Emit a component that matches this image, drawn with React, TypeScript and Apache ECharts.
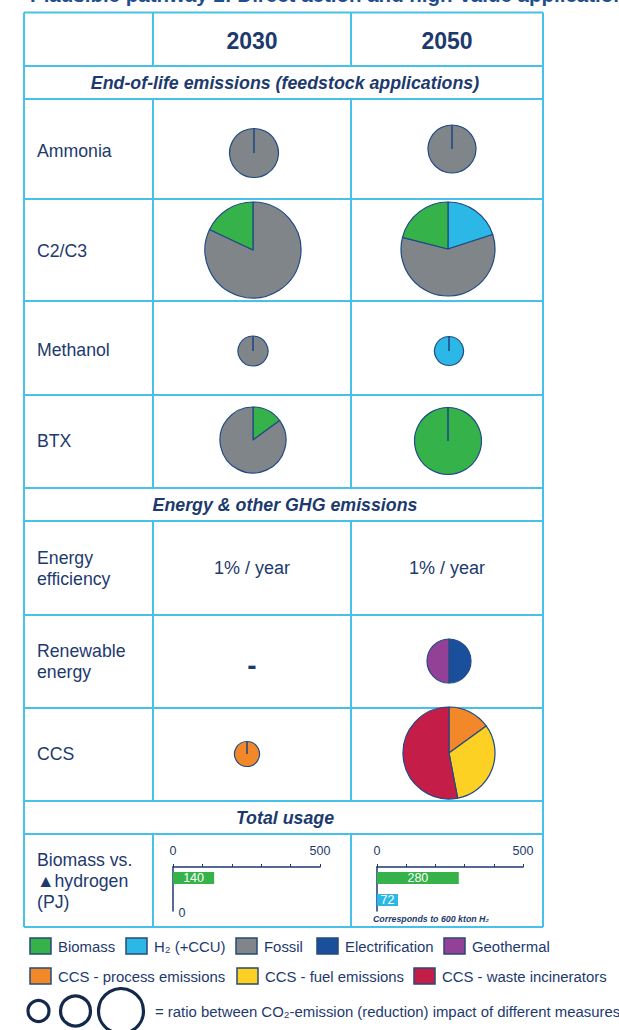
import React, { useEffect, useRef } from "react";
import * as echarts from "echarts";

// ---------- data ----------
const titleText = "Plausible pathway 2: Direct action and high-value applications";
const years = ["2030", "2050"];
const sectionTitles = [
  "End-of-life emissions (feedstock applications)",
  "Energy & other GHG emissions",
  "Total usage",
];
const rowLabels = [
  "Ammonia",
  "C2/C3",
  "Methanol",
  "BTX",
  "Energy\nefficiency",
  "Renewable\nenergy",
  "CCS",
  "Biomass vs.\n▲hydrogen\n(PJ)",
];
const energyEfficiency = ["1% / year", "1% / year"];
const renewable2030Text = "-";

const categories = [
  "Biomass",
  "H₂ (+CCU)",
  "Fossil",
  "Electrification",
  "Geothermal",
  "CCS - process emissions",
  "CCS - fuel emissions",
  "CCS - waste incinerators",
];
const categoryColors = [
  "#35b24a",
  "#2cb8e6",
  "#7f8588",
  "#1a4f9c",
  "#924196",
  "#f2882a",
  "#fdd024",
  "#c41e48",
];

// pie slices, listed clockwise from 12 o'clock: [category, share %]
const ammonia2030: [string, number][] = [["Fossil", 100]];
const ammonia2050: [string, number][] = [["Fossil", 100]];
const c2c3_2030: [string, number][] = [["Fossil", 82], ["Biomass", 18]];
const c2c3_2050: [string, number][] = [["H₂ (+CCU)", 20], ["Fossil", 59], ["Biomass", 21]];
const methanol2030: [string, number][] = [["Fossil", 100]];
const methanol2050: [string, number][] = [["H₂ (+CCU)", 100]];
const btx2030: [string, number][] = [["Biomass", 15], ["Fossil", 85]];
const btx2050: [string, number][] = [["Biomass", 100]];
const renewable2050: [string, number][] = [["Electrification", 50], ["Geothermal", 50]];
const ccs2030: [string, number][] = [["CCS - process emissions", 100]];
const ccs2050: [string, number][] = [
  ["CCS - process emissions", 15],
  ["CCS - fuel emissions", 32],
  ["CCS - waste incinerators", 53],
];
// relative impact (pie radius, px)
const pieSizes = [24.5, 24, 48, 47, 15, 14.5, 33, 33.5, 22, 12.5, 46];

const barCategories = ["Biomass", "Hydrogen"];
const usage2030 = [140, 0];
const usage2050 = [280, 72];
const usageTickLabels = [0, 500];
const usageNote = "Corresponds to 600 kton H₂";
const ratioNote = "= ratio between CO₂-emission (reduction) impact of different measures";

// ---------- layout ----------
const NAVY = "#1d3a6e";
const LINE = "#45c1ea";
const BORDER = "#214a84";
const FONT = "Liberation Sans, Arial, Helvetica, sans-serif";
const X = [24, 153, 351, 543];
const Y = [12.5, 66, 99, 199, 301, 395, 488, 521, 615, 708, 801, 834, 927];
const labelY = [151, 251, 350, 441, 568, 661, 754, 881];
const sectionY = [83, 505, 818];

const pieList = [
  { data: ammonia2030, c: [254, 153] },
  { data: ammonia2050, c: [452, 149] },
  { data: c2c3_2030, c: [253, 250] },
  { data: c2c3_2050, c: [448, 249] },
  { data: methanol2030, c: [253, 351] },
  { data: methanol2050, c: [449, 351] },
  { data: btx2030, c: [253, 440] },
  { data: btx2050, c: [448, 441] },
  { data: renewable2050, c: [449, 661] },
  { data: ccs2030, c: [247, 754] },
  { data: ccs2050, c: [449, 753] },
];

const legendRows = [
  { y: 946, items: [0, 1, 2, 3, 4], xs: [30, 126, 236, 317, 444] },
  { y: 976, items: [5, 6, 7], xs: [30, 237, 414] },
];
const ratioCircles = [
  { cx: 38.5, r: 10.5 },
  { cx: 75.5, r: 15 },
  { cx: 121, r: 22.5 },
];

function buildOption() {
  const graphics: any[] = [];
  const txt = (x: number, y: number, text: string, extra: any = {}) =>
    graphics.push({
      type: "text",
      x,
      y,
      z: 20,
      silent: true,
      style: {
        text,
        fill: NAVY,
        fontFamily: FONT,
        fontSize: 17.7,
        align: "left",
        verticalAlign: "middle",
        ...extra,
      },
    });
  const line = (x1: number, y1: number, x2: number, y2: number, stroke = LINE, lineWidth = 2, z = 0) =>
    graphics.push({
      type: "line",
      silent: true,
      z,
      shape: { x1, y1, x2, y2 },
      style: { stroke, lineWidth },
    });

  // title (cut at the top of the page, as in the source)
  txt(30, 5, titleText, {
    fontSize: 20.5,
    fontWeight: "bold",
    fill: "#1f4f91",
    verticalAlign: "bottom",
  });

  // table grid
  Y.forEach((y) => line(X[0], y, X[3], y));
  line(X[0], Y[0], X[0], Y[Y.length - 1]);
  line(X[3], Y[0], X[3], Y[Y.length - 1]);
  const vSegs = [
    [Y[0], Y[1]],
    [Y[2], Y[6]],
    [Y[7], Y[10]],
    [Y[11], Y[12]],
  ];
  vSegs.forEach(([a, b]) => {
    line(X[1], a, X[1], b);
    line(X[2], a, X[2], b);
  });

  // headers
  years.forEach((yr, i) =>
    txt(i === 0 ? 252 : 447, 41, yr, { fontSize: 23, fontWeight: "bold", align: "center" })
  );
  sectionTitles.forEach((s, i) =>
    txt(285, sectionY[i], s, {
      fontSize: 17.8,
      fontWeight: "bold",
      fontStyle: "italic",
      align: "center",
    })
  );
  rowLabels.forEach((s, i) => txt(37, labelY[i], s, { lineHeight: 21 }));
  energyEfficiency.forEach((s, i) =>
    txt(i === 0 ? 252 : 447, 568, s, { align: "center", fontSize: 18 })
  );
  txt(252, 665, renewable2030Text, { align: "center", fontWeight: "bold", fontSize: 28 });

  // radial start line for single-slice pies
  pieList.forEach((p, i) => {
    if (p.data.length === 1) {
      const r = pieSizes[i];
      line(p.c[0], p.c[1], p.c[0], p.c[1] - r, BORDER, 1.6, 50);
    }
  });

  // bar note
  txt(373, 919, usageNote, { fontSize: 8.8, fontWeight: "bold", fontStyle: "italic" });

  // legend
  legendRows.forEach((row) => {
    row.items.forEach((ci, k) => {
      const x = row.xs[k];
      graphics.push({
        type: "rect",
        silent: true,
        shape: { x, y: row.y - 8, width: 21, height: 16 },
        style: { fill: categoryColors[ci], stroke: "#2a4a74", lineWidth: 1.5 },
      });
      txt(x + 28, row.y + 1, categories[ci], { fontSize: 14.9 });
    });
  });
  ratioCircles.forEach((c) =>
    graphics.push({
      type: "circle",
      silent: true,
      shape: { cx: c.cx, cy: 1011, r: c.r },
      style: { fill: "none", stroke: "#13284a", lineWidth: 3.2 },
    })
  );
  txt(155, 1012, ratioNote, { fontSize: 14.9 });

  const colorOf = (name: string) => categoryColors[categories.indexOf(name)];

  const pieSeries = pieList.map((p, i) => ({
    type: "pie",
    center: p.c,
    radius: pieSizes[i],
    startAngle: 90,
    clockwise: true,
    silent: true,
    z: 5,
    label: { show: false },
    labelLine: { show: false },
    emphasis: { disabled: true },
    itemStyle: { borderColor: BORDER, borderWidth: 1.2 },
    data: p.data.map(([name, value]) => ({
      name,
      value,
      itemStyle: { color: colorOf(name) },
    })),
  }));

  const grids = [
    { left: 173, top: 867, width: 147, height: 44 },
    { left: 377, top: 867, width: 146, height: 44 },
  ];
  const xAxes = grids.map((_, gi) => ({
    gridIndex: gi,
    type: "value",
    position: "top",
    min: 0,
    max: 500,
    interval: 100,
    axisLine: { show: true, lineStyle: { color: NAVY, width: 1.5 } },
    axisTick: { show: true, length: 3, lineStyle: { color: NAVY, width: 1 } },
    axisLabel: {
      color: NAVY,
      fontFamily: FONT,
      fontSize: 12.5,
      margin: 10,
      formatter: (v: number) => (usageTickLabels.includes(v) ? String(v) : ""),
    },
    splitLine: { show: false },
  }));
  const yAxes = grids.map((_, gi) => ({
    gridIndex: gi,
    type: "category",
    inverse: true,
    data: barCategories,
    axisLine: { show: true, lineStyle: { color: NAVY, width: 1.5 } },
    axisTick: { show: false },
    axisLabel: { show: false },
  }));
  const barColors = [categoryColors[0], categoryColors[1]];
  const barSeries = [usage2030, usage2050].map((vals, gi) => ({
    type: "bar",
    xAxisIndex: gi,
    yAxisIndex: gi,
    barWidth: 12,
    silent: true,
    data: vals.map((v, k) => ({
      value: v,
      itemStyle: { color: barColors[k] },
      label:
        v === 0
          ? {
              show: true,
              position: "bottom",
              distance: 0,
              offset: [9, 0],
              color: NAVY,
              fontSize: 12.5,
              fontFamily: FONT,
            }
          : undefined,
    })),
    label: {
      show: true,
      position: "inside",
      color: "#ffffff",
      fontSize: 12.5,
      fontFamily: FONT,
    },
  }));

  return {
    animation: false,
    backgroundColor: "#ffffff",
    textStyle: { fontFamily: FONT },
    grid: grids,
    xAxis: xAxes,
    yAxis: yAxes,
    series: [...pieSeries, ...barSeries],
    graphic: graphics,
  };
}

export default function App() {
  const ref = useRef<HTMLDivElement>(null);
  useEffect(() => {
    if (!ref.current) return;
    const chart = echarts.init(ref.current, null, { renderer: "svg", width: 619, height: 1030 });
    chart.setOption(buildOption() as any);
    return () => chart.dispose();
  }, []);
  return (
    <div
      ref={ref}
      style={{ position: "fixed", left: 0, top: 0, width: 619, height: 1030, background: "#fff" }}
    />
  );
}
